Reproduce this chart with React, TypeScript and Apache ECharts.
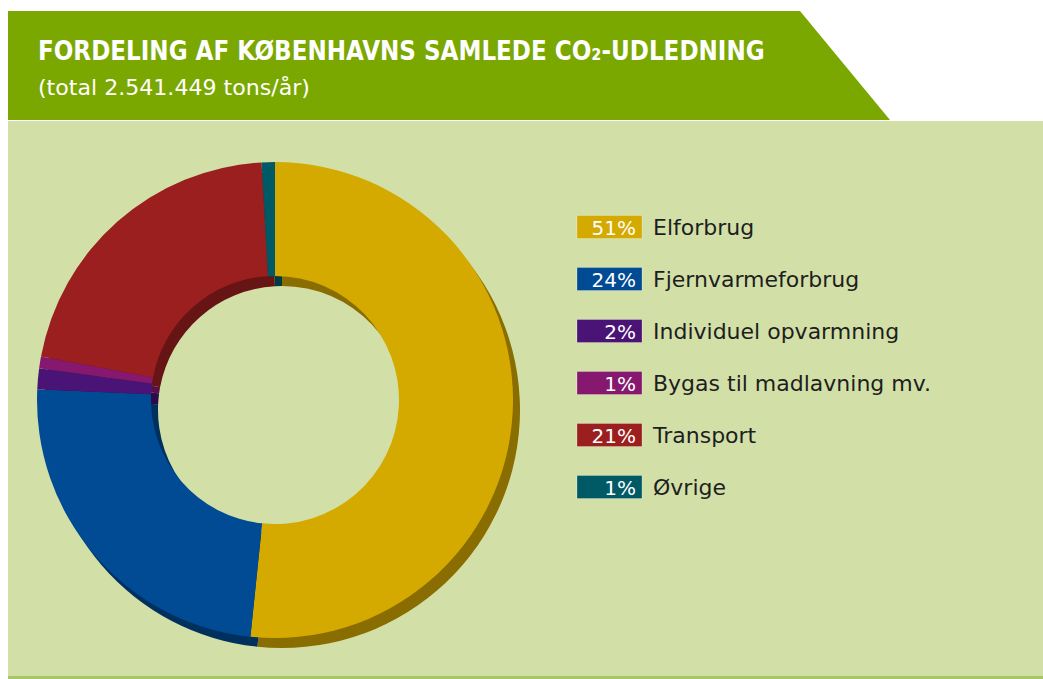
import React, { useEffect, useRef } from "react";
import * as echarts from "echarts";

const categories = [
  "Elforbrug",
  "Fjernvarmeforbrug",
  "Individuel opvarmning",
  "Bygas til madlavning mv.",
  "Transport",
  "Øvrige",
];
// share of total (%)
const shares = [51.7, 24.1, 1.4, 0.8, 21.2, 0.9];
// percentages as printed in the legend boxes
const legendPct = ["51%", "24%", "2%", "1%", "21%", "1%"];
const colors = ["#d4a900", "#004b93", "#4a1476", "#86196f", "#9b1f1f", "#005a66"];
const shadowColors = ["#8a6d00", "#00305e", "#2e0a4c", "#561047", "#661414", "#003a42"];
const titleText = "FORDELING AF KØBENHAVNS SAMLEDE CO₂-UDLEDNING";
const subtitleText = "(total 2.541.449 tons/år)";

function measure(text: string, font: string): number {
  const c = document.createElement("canvas").getContext("2d");
  if (!c) return 100;
  c.font = font;
  return c.measureText(text).width;
}

export default function App() {
  const ref = useRef<HTMLDivElement>(null);
  useEffect(() => {
    if (!ref.current) return;
    const chart = echarts.init(ref.current, null, { renderer: "svg" });
    const titleFont = "'DejaVu Sans Condensed', 'DejaVu Sans'";
    const tW = measure(titleText, `bold 27px ${titleFont}`);
    const sW = measure(subtitleText, `21px ${titleFont}`);
    const legendFont = "'DejaVu Sans', sans-serif";

    const legendItems: any[] = [];
    categories.forEach((name, i) => {
      const cy = 227 + i * 52;
      legendItems.push({
        type: "rect",
        shape: { x: 577, y: cy - 11.5, width: 65, height: 23 },
        style: { fill: colors[i], stroke: "rgba(255,255,255,0.25)", lineWidth: 1 },
      });
      legendItems.push({
        type: "text",
        x: 636,
        y: cy + 1,
        style: {
          text: legendPct[i],
          fill: "#ffffff",
          font: `20px ${legendFont}`,
          align: "right",
          verticalAlign: "middle",
        },
      });
      legendItems.push({
        type: "text",
        x: 653,
        y: cy,
        style: {
          text: name,
          fill: "#1e1e1e",
          font: `22px ${legendFont}`,
          align: "left",
          verticalAlign: "middle",
        },
      });
    });

    const ring = [124, 238];
    chart.setOption({
      animation: false,
      backgroundColor: "#ffffff",
      graphic: [
        {
          type: "rect",
          z: -10,
          shape: { x: 8, y: 121, width: 1035, height: 558 },
          style: { fill: "#d2e0a8" },
        },
        {
          type: "rect",
          z: -9,
          shape: { x: 8, y: 676, width: 1035, height: 3 },
          style: { fill: "#a6c766" },
        },
        {
          type: "polygon",
          z: -8,
          shape: { points: [[8, 11], [800, 11], [890, 120], [8, 120]] },
          style: { fill: "#7ba800" },
        },
        {
          type: "text",
          x: 38,
          y: 51,
          scaleX: 727 / tW,
          style: {
            text: titleText,
            fill: "#ffffff",
            font: `bold 27px ${titleFont}`,
            verticalAlign: "middle",
          },
        },
        {
          type: "text",
          x: 38,
          y: 88,
          scaleX: 272 / sW,
          style: {
            text: subtitleText,
            fill: "#ffffff",
            font: `21px ${titleFont}`,
            verticalAlign: "middle",
          },
        },
        ...legendItems,
      ],
      series: [
        {
          type: "pie",
          silent: true,
          z: 1,
          center: [282, 410],
          radius: ring,
          startAngle: 90,
          clockwise: true,
          label: { show: false },
          labelLine: { show: false },
          data: categories.map((n, i) => ({
            name: n + " skygge",
            value: shares[i],
            itemStyle: { color: shadowColors[i] },
          })),
        },
        {
          type: "pie",
          silent: true,
          z: 2,
          center: [275, 400],
          radius: ring,
          startAngle: 90,
          clockwise: true,
          label: { show: false },
          labelLine: { show: false },
          data: categories.map((n, i) => ({
            name: n,
            value: shares[i],
            itemStyle: { color: colors[i] },
          })),
        },
      ],
    });
    return () => chart.dispose();
  }, []);
  return (
    <div
      ref={ref}
      style={{ position: "fixed", left: 0, top: 0, width: 1043, height: 679 }}
    />
  );
}
